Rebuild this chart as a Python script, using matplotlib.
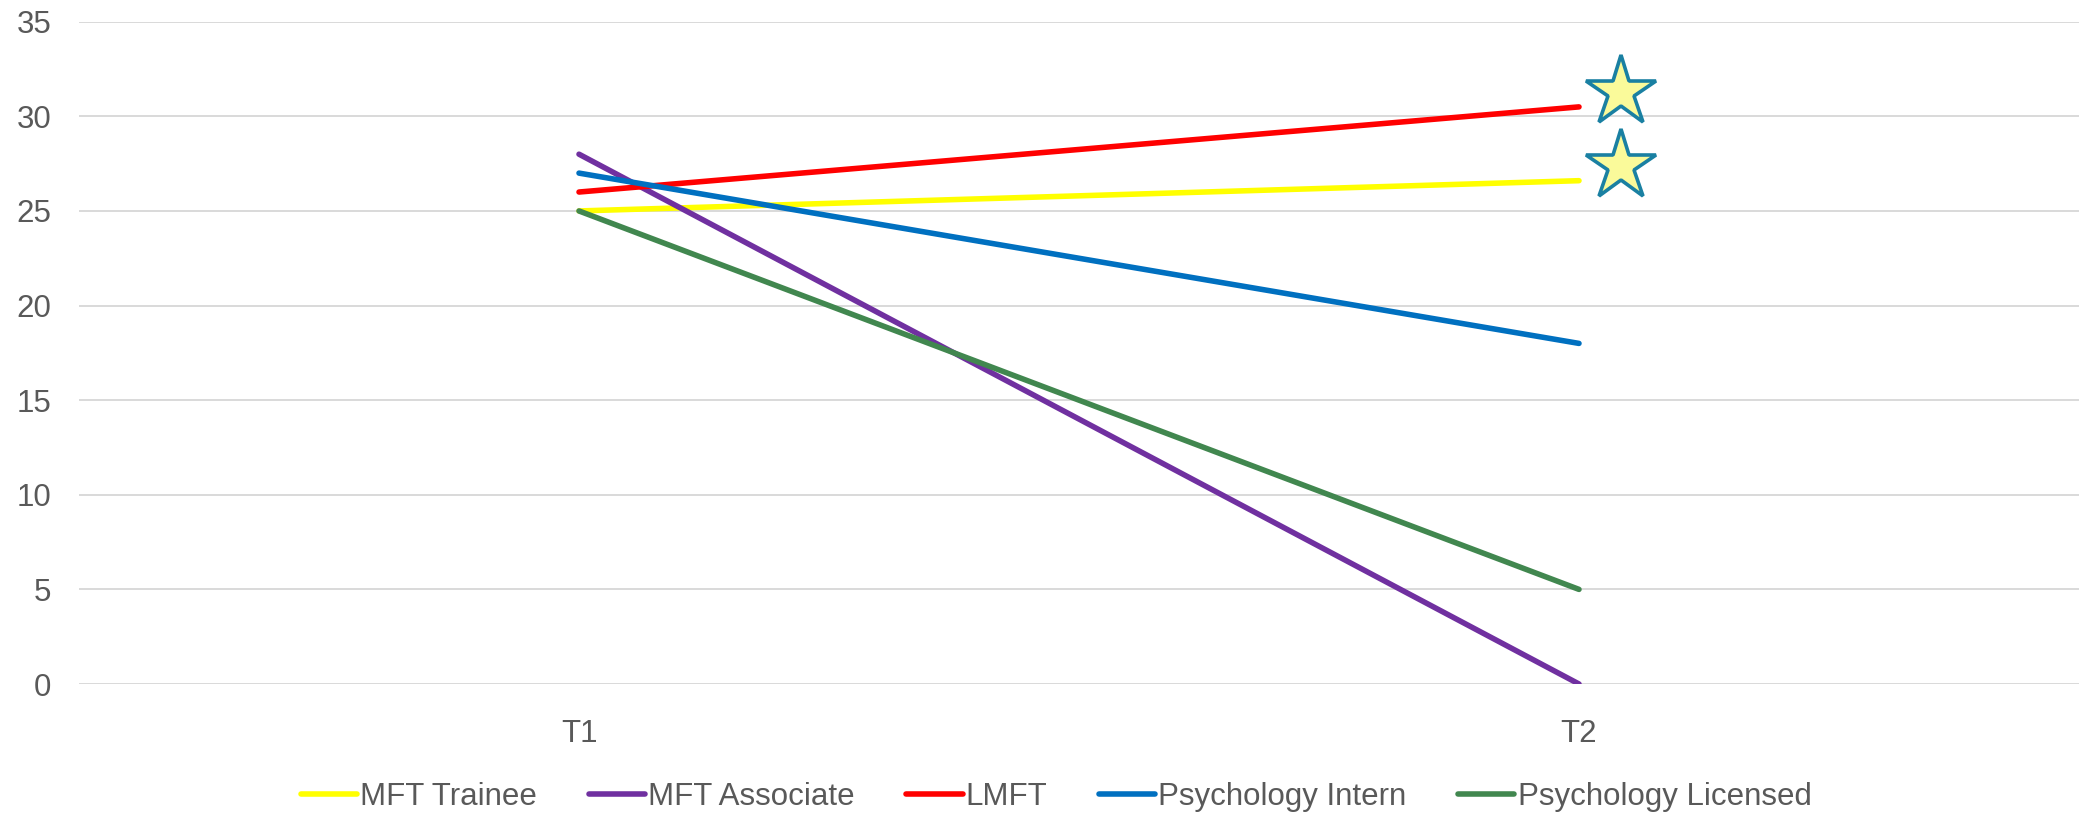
import matplotlib
matplotlib.use('Agg')
import matplotlib.pyplot as plt
import matplotlib.transforms as mtransforms

plt.rcParams['font.family'] = ['Liberation Sans', 'DejaVu Sans']

# time points and scores per group
times = ['T1', 'T2']
mft_trainee = [25, 26.6]
mft_associate = [28, 0]
lmft = [26, 30.5]
psych_intern = [27, 18]
psych_licensed = [25, 5]

series = [
    ('MFT Trainee', mft_trainee, '#FFFF00'),
    ('MFT Associate', mft_associate, '#7030A0'),
    ('LMFT', lmft, '#FF0000'),
    ('Psychology Intern', psych_intern, '#0070C0'),
    ('Psychology Licensed', psych_licensed, '#41874F'),
]

# significance stars next to T2
star_y = [31.3, 27.4]

text_col = '#595959'
fs = 22.5

fig = plt.figure(figsize=(20.79, 8.14), dpi=100)
ax = fig.add_axes([0.038, 0.1597, 0.962, 0.8136])

x = list(range(len(times)))
for name, vals, col in series:
    ax.plot(x, vals, color=col, lw=4.0, solid_capstyle='round', label=name, zorder=3)

star_tr = mtransforms.offset_copy(ax.transData, fig=fig, x=42, y=0, units='dots')
ax.plot([x[-1]] * len(star_y), star_y, linestyle='none', marker='*', markersize=53,
        markerfacecolor='#FAFA9A', markeredgecolor='#1A80A2', markeredgewidth=2.6,
        transform=star_tr, zorder=4, clip_on=False)

ax.set_xlim(-0.5, 1.5)
ax.set_ylim(0, 35)
ax.set_yticks(range(0, 36, 5))
ax.set_xticks(x)
ax.set_xticklabels(times)
ax.grid(axis='y', color='#D9D9D9', lw=1.4)
ax.set_axisbelow(True)
for s in ax.spines.values():
    s.set_visible(False)
ax.tick_params(axis='y', length=0, pad=20, labelsize=fs, labelcolor=text_col)
ax.tick_params(axis='x', length=0, pad=25, labelsize=fs, labelcolor=text_col)

leg = fig.legend(loc='center', bbox_to_anchor=(0.508, 0.021), ncol=5, frameon=False,
                 fontsize=fs, handlelength=1.8, handletextpad=0.1, columnspacing=1.65,
                 labelcolor=text_col)
for h in leg.get_lines():
    h.set_linewidth(4.0)
    h.set_solid_capstyle('round')

fig.savefig('out.png', dpi=100)
